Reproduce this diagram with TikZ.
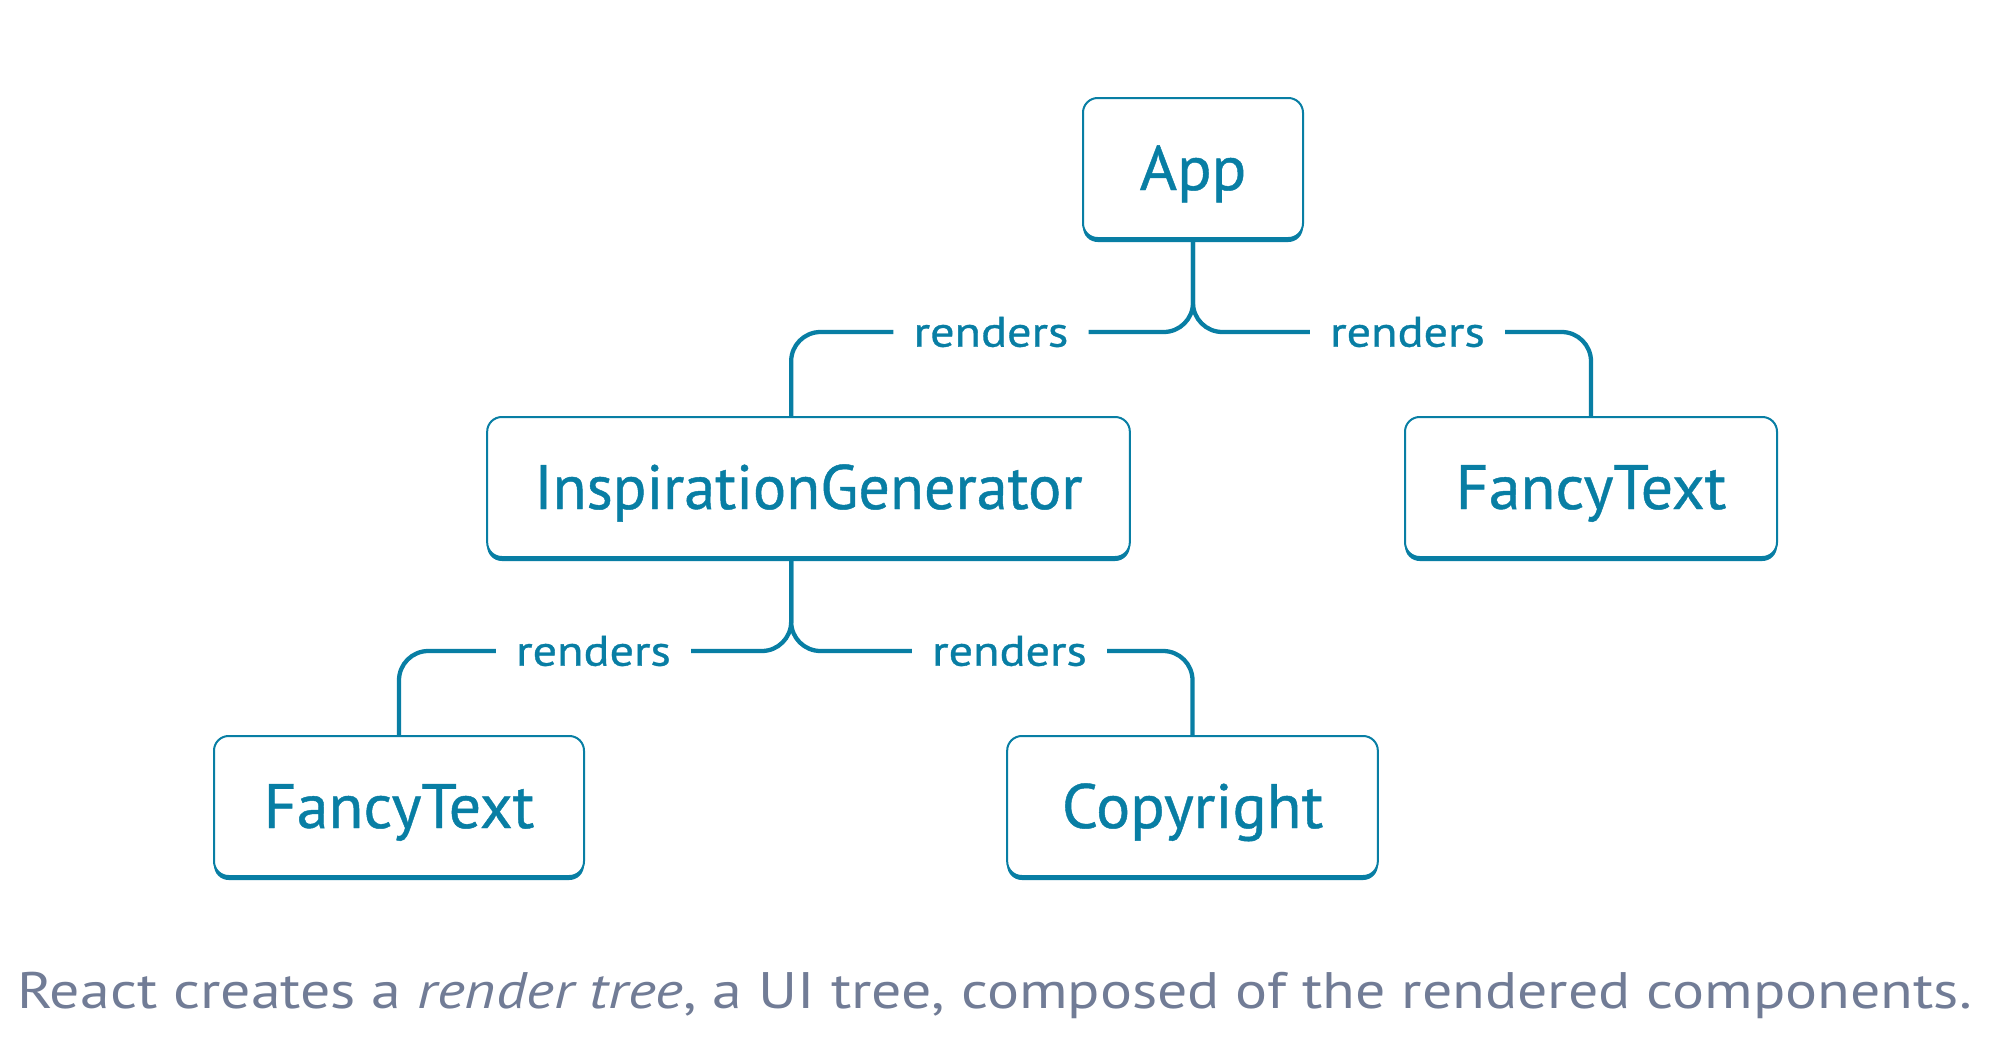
\documentclass[tikz,border=0pt]{standalone}
\usepackage{fontspec}
\usepackage{graphicx}
\setmainfont{PT Sans}
\newfontfamily\medfont[FakeBold=0.7]{PT Sans}
\usetikzlibrary{shadows}
\definecolor{rblue}{HTML}{087EA4}
\definecolor{capgray}{HTML}{717C96}
\newcommand\fitw[2]{\resizebox{#1}{\height}{#2}}
\begin{document}
\begin{tikzpicture}[x=0.75pt,y=-0.75pt,
  compbox/.style={draw=rblue, line width=1.5pt, fill=white, rounded corners=11pt,
    minimum height=105pt, inner sep=0pt, text=rblue, text height=33pt, text depth=0pt,
    font=\medfont\fontsize{47pt}{52pt}\selectfont,
    general shadow={shadow yshift=-3pt, fill=rblue}},
  lbl/.style={text=rblue, inner xsep=15pt, inner ysep=0pt, font=\medfont\fontsize{32pt}{38pt}\selectfont},
  conn/.style={draw=rblue, line width=3.2pt, rounded corners=22pt, line cap=butt}]
\fill[white] (0,0) rectangle (2000,1060);
\useasboundingbox (0,0) rectangle (2000,1060);

\node[compbox, minimum width=165pt] (app) at (1193,168) {\fitw{80pt}{App}};
\node[compbox, minimum width=482pt] (ig) at (808.5,487) {\fitw{411pt}{InspirationGenerator}};
\node[compbox, minimum width=279pt] (ftr) at (1591,487) {\fitw{203pt}{FancyText}};
\node[compbox, minimum width=277.5pt] (ftl) at (399,806) {\fitw{203pt}{FancyText}};
\node[compbox, minimum width=278pt] (cp) at (1192.5,806) {\fitw{196pt}{Copyright}};

\node[lbl] (l1) at (991,332) {\fitw{116pt}{renders}};
\node[lbl] (l2) at (1407.5,332) {\fitw{116pt}{renders}};
\node[lbl] (l3) at (593.5,651) {\fitw{116pt}{renders}};
\node[lbl] (l4) at (1009.5,651) {\fitw{116pt}{renders}};

\draw[conn] (app.south) |- (l1.east);
\draw[conn] (app.south) |- (l2.west);
\draw[conn] (l1.west) -| ([xshift=-13pt]ig.north);
\draw[conn] (l2.east) -| (ftr.north);
\draw[conn] ([xshift=-13pt]ig.south) |- (l3.east);
\draw[conn] ([xshift=-13pt]ig.south) |- (l4.west);
\draw[conn] (l3.west) -| (ftl.north);
\draw[conn] (l4.east) -| (cp.north);

\node[anchor=base, text=capgray, inner sep=0pt, font=\fontsize{38.5pt}{44pt}\selectfont] (cap) at (994.5,1008)
  {\fitw{1466pt}{React creates a \textit{render tree}, a UI tree, composed of the rendered components.}};
\end{tikzpicture}
\end{document}
